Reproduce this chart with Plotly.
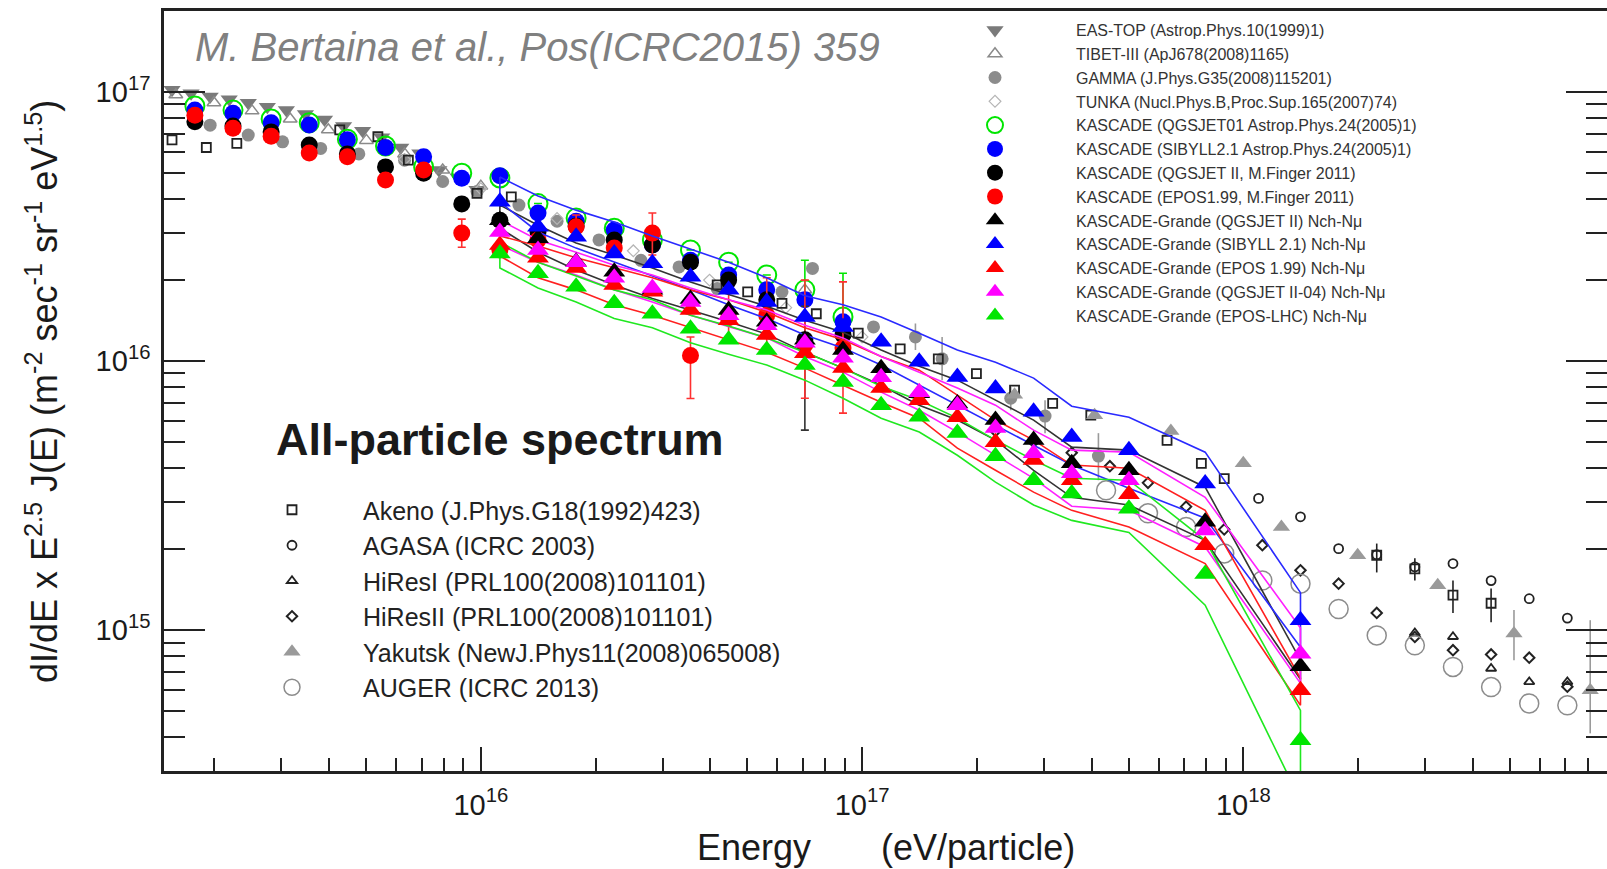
import plotly.graph_objects as go

# ---------------- data : x = log10(E / eV), y = E^2.5 J(E) ----------------
# KASCADE-Grande (Nch-Nmu), five hadronic models: points + systematic band (upper / lower)
lg_grande = [16.05, 16.15, 16.25, 16.35, 16.45, 16.55, 16.65, 16.75, 16.85, 16.95,
             17.05, 17.15, 17.25, 17.35, 17.45, 17.55, 17.70, 17.90, 18.15]

sib_val = [3.91e16, 3.16e16, 2.90e16, 2.51e16, 2.31e16, 2.06e16, 1.84e16, 1.66e16, 1.46e16, 1.34e16,
           1.18e16, 9.94e15, 8.74e15, 7.91e15, 6.48e15, 5.23e15, 4.67e15, 3.51e15, 1.09e15]
sib_hi = [4.83e16, 4.11e16, 3.64e16, 3.29e16, 2.92e16, 2.61e16, 2.33e16, 2.04e16, 1.75e16, 1.62e16,
          1.46e16, 1.27e16, 1.10e16, 9.91e15, 8.65e15, 6.80e15, 6.19e15, 4.59e15, 1.38e15]
sib_lo = [3.90e16, 3.02e16, 2.63e16, 2.33e16, 2.07e16, 1.84e16, 1.62e16, 1.44e16, 1.25e16, 1.12e16,
          9.67e15, 8.14e15, 6.86e15, 5.78e15, 4.87e15, 4.11e15, 3.37e15, 2.61e15, 8.65e14]

qgs_val = [3.34e16, 2.86e16, 2.34e16, 2.15e16, 1.84e16, 1.70e16, 1.55e16, 1.40e16, 1.20e16, 1.10e16,
           9.40e15, 7.59e15, 6.96e15, 6.04e15, 5.09e15, 4.17e15, 3.93e15, 2.53e15, 7.35e14]
qgs_hi = [3.80e16, 3.20e16, 2.75e16, 2.48e16, 2.22e16, 1.97e16, 1.77e16, 1.60e16, 1.42e16, 1.28e16,
          1.10e16, 9.58e15, 8.50e15, 7.16e15, 6.04e15, 4.79e15, 4.67e15, 3.40e15, 7.74e14]
qgs_lo = [3.12e16, 2.54e16, 2.18e16, 1.92e16, 1.71e16, 1.55e16, 1.40e16, 1.26e16, 1.08e16, 9.42e15,
          8.14e15, 6.86e15, 6.04e15, 5.09e15, 3.93e15, 3.12e15, 2.92e15, 2.16e15, 6.58e14]

epos_val = [2.70e16, 2.42e16, 2.22e16, 1.92e16, 1.81e16, 1.55e16, 1.42e16, 1.25e16, 1.07e16, 9.42e15,
            7.94e15, 7.16e15, 6.19e15, 5.00e15, 4.29e15, 3.61e15, 3.20e15, 2.07e15, 5.98e14]
epos_hi = [2.92e16, 2.68e16, 2.42e16, 2.22e16, 2.04e16, 1.84e16, 1.69e16, 1.52e16, 1.33e16, 1.20e16,
           1.04e16, 9.26e15, 7.48e15, 6.04e15, 5.09e15, 4.11e15, 4.00e15, 2.79e15, 6.63e14]
epos_lo = [2.46e16, 2.04e16, 1.84e16, 1.62e16, 1.48e16, 1.33e16, 1.20e16, 1.08e16, 9.42e15, 8.14e15,
           7.04e15, 6.14e15, 4.75e15, 3.93e15, 3.26e15, 2.79e15, 2.42e15, 1.77e15, 5.26e14]

q04_val = [3.02e16, 2.59e16, 2.33e16, 2.04e16, 1.87e16, 1.66e16, 1.48e16, 1.36e16, 1.17e16, 1.03e16,
           8.72e15, 7.67e15, 6.86e15, 5.64e15, 4.55e15, 3.83e15, 3.61e15, 2.35e15, 8.18e14]
q04_hi = [3.34e16, 2.82e16, 2.54e16, 2.27e16, 2.09e16, 1.87e16, 1.69e16, 1.55e16, 1.36e16, 1.22e16,
          1.04e16, 9.10e15, 7.94e15, 6.86e15, 5.54e15, 4.67e15, 4.59e15, 3.12e15, 1.02e15]
q04_lo = [2.70e16, 2.33e16, 2.09e16, 1.84e16, 1.66e16, 1.48e16, 1.34e16, 1.22e16, 1.04e16, 9.10e15,
          7.67e15, 6.57e15, 5.45e15, 4.47e15, 3.67e15, 2.89e15, 2.79e15, 2.04e15, 6.35e14]

lhc_val = [2.51e16, 2.12e16, 1.89e16, 1.64e16, 1.50e16, 1.32e16, 1.20e16, 1.10e16, 9.67e15, 8.36e15,
           6.86e15, 6.21e15, 5.41e15, 4.43e15, 3.61e15, 3.22e15, 2.83e15, 1.62e15, 3.90e14]
lhc_hi = [2.77e16, 2.33e16, 2.07e16, 1.84e16, 1.69e16, 1.48e16, 1.35e16, 1.22e16, 1.08e16, 9.42e15,
          8.07e15, 7.16e15, 6.14e15, 5.09e15, 4.29e15, 3.67e15, 3.61e15, 2.16e15, 5.04e14]
lhc_lo = [2.22e16, 1.87e16, 1.66e16, 1.44e16, 1.33e16, 1.17e16, 1.06e16, 9.67e15, 8.50e15, 7.28e15,
          6.14e15, 5.45e15, 4.47e15, 3.55e15, 2.92e15, 2.56e15, 2.31e15, 1.24e15, 2.33e14]

# KASCADE (circles)
lg_kas = [15.25, 15.35, 15.45, 15.55, 15.65, 15.75, 15.85, 15.95, 16.05,
          16.15, 16.25, 16.35, 16.45, 16.55, 16.65, 16.75, 16.85, 16.95]
kas_q01 = [8.87e16, 8.57e16, 7.94e16, 7.69e16, 6.68e16, 6.30e16, 5.27e16, 4.99e16, 4.79e16,
           3.85e16, 3.40e16, 3.12e16, 2.82e16, 2.59e16, 2.33e16, 2.09e16, 1.84e16, 1.46e16]
kas_q01_hi = [8.87e16, 8.57e16, 7.94e16, 7.69e16, 6.68e16, 6.30e16, 5.27e16, 4.99e16, 4.79e16,
              3.85e16, 3.40e16, 3.12e16, 2.82e16, 2.59e16, 2.33e16, 2.09e16, 2.37e16, 2.12e16]
kas_q01_lo = [8.87e16, 8.57e16, 7.94e16, 7.69e16, 6.68e16, 6.30e16, 5.27e16, 4.99e16, 4.79e16,
              3.85e16, 3.40e16, 3.12e16, 2.82e16, 2.59e16, 2.33e16, 2.09e16, 1.45e16, 1.15e16]
kas_sib = [8.57e16, 8.34e16, 7.69e16, 7.54e16, 6.64e16, 6.22e16, 5.75e16, 4.78e16, 4.88e16,
           3.55e16, 3.31e16, 3.07e16, 2.70e16, 2.37e16, 2.09e16, 1.84e16, 1.69e16, 1.40e16]
kas_qgs = [7.76e16, 7.48e16, 7.11e16, 6.35e16, 5.89e16, 5.27e16, 4.99e16, 3.84e16, 3.34e16,
           3.02e16, 3.18e16, 2.82e16, 2.70e16, 2.33e16, 2.00e16, 1.69e16, 1.20e16, 1.25e16]
kas_qgs_hi = [7.76e16, 7.48e16, 7.11e16, 6.35e16, 5.89e16, 5.27e16, 4.99e16, 3.84e16, 3.34e16,
              3.02e16, 3.18e16, 2.82e16, 2.70e16, 2.33e16, 2.00e16, 1.69e16, 1.60e16, 1.25e16]
kas_qgs_lo = [7.76e16, 7.48e16, 7.11e16, 6.35e16, 5.89e16, 5.27e16, 4.99e16, 3.84e16, 3.34e16,
              3.02e16, 3.18e16, 2.82e16, 2.70e16, 2.33e16, 2.00e16, 1.69e16, 5.54e15, 1.25e16]
kas_epos = [8.20e16, 7.33e16, 6.85e16, 5.94e16, 5.75e16, 4.71e16, 5.13e16, 2.99e16, 2.59e16,
            2.82e16, 3.16e16, 2.63e16, 2.99e16, 1.05e16, 1.45e16, 1.48e16, 1.15e16, 1.12e16]
kas_epos_hi = [8.20e16, 7.33e16, 6.85e16, 5.94e16, 5.75e16, 4.71e16, 5.13e16, 3.37e16, 2.59e16,
               2.82e16, 3.49e16, 2.63e16, 3.55e16, 1.23e16, 1.80e16, 2.04e16, 2.00e16, 1.97e16]
kas_epos_lo = [8.20e16, 7.33e16, 6.85e16, 5.94e16, 5.75e16, 4.71e16, 5.13e16, 2.65e16, 2.59e16,
               2.82e16, 2.86e16, 2.63e16, 2.48e16, 7.26e15, 1.20e16, 1.10e16, 7.28e15, 6.41e15]

# other experiments
eastop_lg = [15.19, 15.24, 15.29, 15.34, 15.39, 15.44, 15.49, 15.54, 15.59, 15.64,
             15.69, 15.74, 15.79, 15.84, 15.89, 15.94, 15.99]
eastop_val = [1.02e17, 9.89e16, 9.62e16, 9.40e16, 9.12e16, 8.81e16, 8.57e16, 8.28e16, 7.91e16, 7.48e16,
              7.18e16, 6.79e16, 6.22e16, 5.92e16, 5.13e16, 4.82e16, 4.33e16]
tibet_lg = [15.20, 15.30, 15.40, 15.50, 15.60, 15.70, 15.80, 15.90, 16.00, 16.85]
tibet_val = [9.77e16, 9.12e16, 8.51e16, 7.94e16, 7.24e16, 6.61e16, 5.89e16, 5.13e16, 4.47e16, 1.84e16]
gamma_lg = [15.29, 15.39, 15.48, 15.58, 15.68, 15.80, 15.90, 15.99, 16.10, 16.20, 16.31,
            16.42, 16.52, 16.62, 16.79, 16.87, 17.03, 17.14, 17.21, 17.39, 17.48, 17.62]
gamma_val = [7.53e16, 6.92e16, 6.53e16, 6.17e16, 5.89e16, 5.58e16, 4.65e16, 4.27e16, 3.80e16, 3.31e16, 2.82e16,
             2.37e16, 2.24e16, 1.86e16, 1.81e16, 2.21e16, 1.34e16, 1.23e16, 1.02e16, 7.28e15, 6.25e15, 4.44e15]
gamma_hi = [7.53e16, 6.92e16, 6.53e16, 6.17e16, 5.89e16, 5.58e16, 4.65e16, 4.27e16, 3.80e16, 3.31e16, 2.82e16,
            2.37e16, 2.24e16, 1.86e16, 1.81e16, 2.21e16, 1.34e16, 1.38e16, 1.23e16, 8.02e15, 7.16e15, 5.40e15]
gamma_lo = [7.53e16, 6.92e16, 6.53e16, 6.17e16, 5.89e16, 5.58e16, 4.65e16, 4.27e16, 3.80e16, 3.31e16, 2.82e16,
            2.37e16, 2.24e16, 1.86e16, 1.81e16, 2.21e16, 1.34e16, 1.10e16, 8.49e15, 6.57e15, 5.40e15, 3.61e15]
tunka_lg = [15.8, 16.0, 16.2, 16.4, 16.6, 16.8, 17.0]
tunka_val = [5.62e16, 4.37e16, 3.39e16, 2.57e16, 2.00e16, 1.58e16, 1.23e16]

akeno_lg = [15.19, 15.28, 15.36, 15.63, 15.73, 15.81, 15.99, 16.08, 16.62, 16.70, 16.79, 16.88, 16.99,
            17.10, 17.20, 17.30, 17.40, 17.50, 17.60, 17.80, 17.89, 17.95, 18.35, 18.45, 18.55, 18.65]
akeno_val = [6.64e16, 6.22e16, 6.44e16, 7.23e16, 6.82e16, 5.58e16, 4.20e16, 4.08e16, 1.92e16, 1.81e16, 1.64e16,
             1.50e16, 1.27e16, 1.11e16, 1.02e16, 8.99e15, 7.80e15, 6.97e15, 6.30e15, 5.08e15, 4.17e15,
             3.66e15, 1.90e15, 1.69e15, 1.35e15, 1.26e15]
akeno_hi = [6.64e16, 6.22e16, 6.44e16, 7.23e16, 6.82e16, 5.58e16, 4.20e16, 4.08e16, 1.92e16, 1.81e16, 1.64e16,
            1.50e16, 1.27e16, 1.11e16, 1.02e16, 8.99e15, 7.80e15, 6.97e15, 6.30e15, 5.08e15, 4.17e15,
            3.66e15, 2.10e15, 1.85e15, 1.53e15, 1.43e15]
akeno_lo = [6.64e16, 6.22e16, 6.44e16, 7.23e16, 6.82e16, 5.58e16, 4.20e16, 4.08e16, 1.92e16, 1.81e16, 1.64e16,
            1.50e16, 1.27e16, 1.11e16, 1.02e16, 8.99e15, 7.80e15, 6.97e15, 6.30e15, 5.08e15, 4.17e15,
            3.66e15, 1.64e15, 1.53e15, 1.16e15, 1.07e15]
agasa_lg = [18.04, 18.15, 18.25, 18.35, 18.45, 18.55, 18.65, 18.75, 18.85]
agasa_val = [3.09e15, 2.64e15, 2.01e15, 1.91e15, 1.72e15, 1.77e15, 1.53e15, 1.31e15, 1.11e15]
hires1_lg = [18.45, 18.55, 18.65, 18.75, 18.85]
hires1_val = [9.77e14, 9.46e14, 7.21e14, 6.43e14, 6.43e14]
hires2_lg = [17.35, 17.45, 17.55, 17.65, 17.75, 17.85, 17.95, 18.05, 18.15, 18.25,
             18.35, 18.45, 18.55, 18.65, 18.75, 18.85]
hires2_val = [5.50e15, 5.01e15, 4.57e15, 4.07e15, 3.53e15, 2.88e15, 2.37e15, 2.07e15, 1.67e15, 1.49e15,
              1.16e15, 9.44e14, 8.43e14, 8.13e14, 7.91e14, 6.17e14]
yak_lg = [17.40, 17.61, 17.81, 18.00, 18.10, 18.30, 18.51, 18.71, 18.91]
yak_val = [7.50e15, 6.30e15, 5.50e15, 4.17e15, 2.42e15, 1.90e15, 1.47e15, 9.73e14, 5.98e14]
yak_hi = [7.50e15, 6.30e15, 5.50e15, 4.17e15, 2.42e15, 1.90e15, 1.47e15, 1.19e15, 1.09e15]
yak_lo = [7.50e15, 6.30e15, 5.50e15, 4.17e15, 2.42e15, 1.90e15, 1.47e15, 7.73e14, 4.14e14]
auger_lg = [17.64, 17.75, 17.85, 17.95, 18.05, 18.15, 18.25, 18.35, 18.45, 18.55, 18.65, 18.75, 18.85]
auger_val = [3.31e15, 2.72e15, 2.42e15, 1.93e15, 1.53e15, 1.49e15, 1.20e15, 9.57e14, 8.79e14,
             7.31e14, 6.15e14, 5.35e14, 5.26e14]

# tick labels
x_tick_vals = [1e16, 1e17, 1e18]
x_tick_text = ["10<sup>16</sup>", "10<sup>17</sup>", "10<sup>18</sup>"]
y_tick_vals = [1e15, 1e16, 1e17]
y_tick_text = ["10<sup>15</sup>", "10<sup>16</sup>", "10<sup>17</sup>"]

# ---------------- figure ----------------
W, H = 1607, 869
ML, MT, MB = 164, 11, 98
PW, PH = W - ML, H - MT - MB

FONT = "Liberation Sans, Arial, Helvetica, sans-serif"
GREEN = "#00e600"


def E(lgs):
    return [10 ** v for v in lgs]


fig = go.Figure()


def pts(name, lgx, y, symbol, size, color, legend, lw=0, hi=None, lo=None, cap=0, ecolor=None):
    err = None
    if hi is not None:
        err = dict(type="data", symmetric=False,
                   array=[h - v for h, v in zip(hi, y)],
                   arrayminus=[v - l for v, l in zip(y, lo)],
                   color=ecolor or color, thickness=1.6, width=cap)
    fig.add_trace(go.Scatter(
        x=E(lgx), y=y, mode="markers", name=name, legend=legend,
        marker=dict(symbol=symbol, size=size, color=color, line=dict(width=lw, color=color)),
        error_y=err, hoverinfo="x+y+name"))


# grey reference data
pts("EAS-TOP (Astrop.Phys.10(1999)1)", eastop_lg, eastop_val, "triangle-down", 15, "#7a7a7a", "legend")
pts("TIBET-III (ApJ678(2008)1165)", tibet_lg, tibet_val, "triangle-up-open", 12, "#8a8a8a", "legend", lw=1.5)
pts("GAMMA (J.Phys.G35(2008)115201)", gamma_lg, gamma_val, "circle", 13, "#8c8c8c", "legend",
    hi=gamma_hi, lo=gamma_lo, ecolor="#9a9a9a")
pts("TUNKA (Nucl.Phys.B,Proc.Sup.165(2007)74)", tunka_lg, tunka_val, "diamond-open", 9, "#b5b5b5", "legend", lw=1.2)

pts("Akeno (J.Phys.G18(1992)423)", akeno_lg, akeno_val, "square-open", 9, "#222222", "legend2", lw=1.8,
    hi=akeno_hi, lo=akeno_lo)
pts("AGASA (ICRC 2003)", agasa_lg, agasa_val, "circle-open", 9, "#222222", "legend2", lw=1.8)
pts("HiResI (PRL100(2008)101101)", hires1_lg, hires1_val, "triangle-up-open", 9, "#222222", "legend2", lw=1.8)
pts("HiResII (PRL100(2008)101101)", hires2_lg, hires2_val, "diamond-open", 8, "#222222", "legend2", lw=2)
pts("Yakutsk (NewJ.Phys11(2008)065008)", yak_lg, yak_val, "triangle-up", 15, "#9a9a9a", "legend2",
    hi=yak_hi, lo=yak_lo)
pts("AUGER (ICRC 2013)", auger_lg, auger_val, "circle-open", 19, "#8c8c8c", "legend2", lw=1.5)

# KASCADE
pts("KASCADE (QGSJET01 Astrop.Phys.24(2005)1)", lg_kas, kas_q01, "circle-open", 19, GREEN, "legend", lw=2,
    hi=kas_q01_hi, lo=kas_q01_lo, cap=4)
pts("KASCADE (SIBYLL2.1 Astrop.Phys.24(2005)1)", lg_kas, kas_sib, "circle", 17, "#0000ff", "legend")
pts("KASCADE (QGSJET II, M.Finger 2011)", lg_kas, kas_qgs, "circle", 17, "#000000", "legend",
    hi=kas_qgs_hi, lo=kas_qgs_lo, cap=4, ecolor="#333333")
pts("KASCADE (EPOS1.99, M.Finger 2011)", lg_kas, kas_epos, "circle", 17, "#ff0000", "legend",
    hi=kas_epos_hi, lo=kas_epos_lo, cap=4, ecolor="#ff3030")

# KASCADE-Grande systematic bands (outlines)
grande = [
    ("KASCADE-Grande (QGSJET II) Nch-N\u03bc", qgs_val, qgs_hi, qgs_lo, "#000000", "#333333"),
    ("KASCADE-Grande (SIBYLL 2.1) Nch-N\u03bc", sib_val, sib_hi, sib_lo, "#0000ff", "#2a2aff"),
    ("KASCADE-Grande (EPOS 1.99) Nch-N\u03bc", epos_val, epos_hi, epos_lo, "#ff0000", "#ff2020"),
    ("KASCADE-Grande (QGSJET II-04) Nch-N\u03bc", q04_val, q04_hi, q04_lo, "#ff00ff", "#ff20ff"),
    ("KASCADE-Grande (EPOS-LHC) Nch-N\u03bc", lhc_val, lhc_hi, lhc_lo, GREEN, "#20e820"),
]
for name, val, hi, lo, col, lcol in grande:
    fig.add_trace(go.Scatter(
        x=E(lg_grande + lg_grande[::-1] + lg_grande[:1]),
        y=hi + lo[::-1] + hi[:1],
        mode="lines", line=dict(color=lcol, width=1.6), showlegend=False, hoverinfo="skip"))
for name, val, hi, lo, col, lcol in grande:
    pts(name, lg_grande, val, "triangle-up", 19, col, "legend")

# ---------------- axes ----------------
x_minor = [k * 10 ** d for d in (15, 16, 17, 18) for k in range(2, 10)]
y_minor = [k * 10 ** d for d in (14, 15, 16, 17) for k in range(2, 10)]
AX = "#222222"

fig.update_xaxes(
    type="log", range=[15.169, 18.954], showgrid=False, zeroline=False,
    showline=True, linecolor=AX, linewidth=2.5, mirror=True,
    ticks="inside", ticklen=24, tickwidth=1.6, tickcolor=AX,
    tickmode="array", tickvals=x_tick_vals, ticktext=x_tick_text,
    minor=dict(ticks="inside", ticklen=13, tickwidth=1.6, tickcolor=AX, tickmode="array", tickvals=x_minor),
    tickfont=dict(size=29, color="#1a1a1a", family=FONT), ticklabelstandoff=6,
)
fig.update_yaxes(
    type="log", range=[14.4771, 17.3010], showgrid=False, zeroline=False,
    showline=True, linecolor=AX, linewidth=2.5, mirror="ticks",
    ticks="inside", ticklen=41, tickwidth=1.6, tickcolor=AX,
    tickmode="array", tickvals=y_tick_vals, ticktext=y_tick_text,
    minor=dict(ticks="inside", ticklen=21, tickwidth=1.6, tickcolor=AX, tickmode="array", tickvals=y_minor),
    tickfont=dict(size=29, color="#1a1a1a", family=FONT), ticklabelstandoff=5,
)


def px(x):
    return (x - ML) / PW


def py(y):
    return (MT + PH - y) / PH


fig.update_layout(
    width=W, height=H,
    margin=dict(l=ML, r=0, t=MT, b=MB, autoexpand=False),
    paper_bgcolor="white", plot_bgcolor="white",
    font=dict(family=FONT, color="#1a1a1a"),
    showlegend=True,
    legend=dict(xref="container", yref="container", x=914 / W, y=1 - 13 / H, xanchor="left", yanchor="top",
                bgcolor="rgba(0,0,0,0)", borderwidth=0, font=dict(size=16, color="#333333", family=FONT),
                itemwidth=152, traceorder="normal", itemclick=False),
    legend2=dict(xref="container", yref="container", x=221 / W, y=1 - 487 / H, xanchor="left", yanchor="top",
                 bgcolor="rgba(0,0,0,0)", borderwidth=0, font=dict(size=25, color="#222222", family=FONT),
                 itemwidth=132, traceorder="normal", itemclick=False),
    annotations=[
        dict(text="<i>M. Bertaina et al., Pos(ICRC2015) 359</i>", xref="paper", yref="paper",
             x=px(193), y=py(47), xanchor="left", yanchor="middle", showarrow=False,
             font=dict(size=40, color="#808080", family=FONT)),
        dict(text="<b>All-particle spectrum</b>", xref="paper", yref="paper",
             x=px(274), y=py(440), xanchor="left", yanchor="middle", showarrow=False,
             font=dict(size=45, color="#1a1a1a", family=FONT)),
        # axis titles
        dict(text="Energy" + "\u00a0" * 7 + "(eV/particle)", xref="paper", yref="paper",
             x=px(886), y=py(847), xanchor="center", yanchor="middle", showarrow=False,
             font=dict(size=36, color="#1a1a1a", family=FONT)),
        dict(text="dI/dE x E<sup>2.5</sup> J(E) (m<sup>-2</sup> sec<sup>-1</sup> sr<sup>-1</sup> eV<sup>1.5</sup>)",
             xref="paper", yref="paper", x=px(42), y=py(392), xanchor="center", yanchor="middle",
             textangle=-90, showarrow=False, font=dict(size=36, color="#1a1a1a", family=FONT)),
    ],
)

fig.write_html("out.html")
